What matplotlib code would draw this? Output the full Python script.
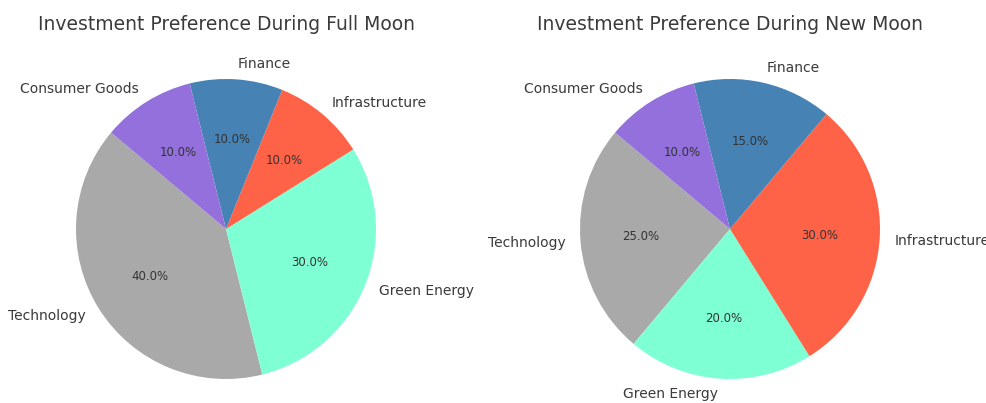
import matplotlib
matplotlib.use("Agg")
import matplotlib.pyplot as plt

# Investment shares by sector under each lunar phase
sectors = ["Technology", "Green Energy", "Infrastructure", "Finance", "Consumer Goods"]
full_moon = [40, 30, 10, 10, 10]
new_moon = [25, 20, 30, 15, 10]
colors = ["#a9a9a9", "#7fffd4", "#ff6347", "#4682b4", "#9370db"]
titles = ["Investment Preference During Full Moon", "Investment Preference During New Moon"]

W, H = 987, 403
fig = plt.figure(figsize=(W / 100, H / 100), dpi=100)

text_color = "#3a3a3a"
side = 375  # axes size in pixels (pie radius = side / 2.5)
centers = [(226, 229), (730, 229)]

for (cx, cy), values, title in zip(centers, [full_moon, new_moon], titles):
    ax = fig.add_axes([(cx - side / 2) / W, (H - cy - side / 2) / H, side / W, side / H])
    ax.pie(values, labels=sectors, colors=colors, autopct="%1.1f%%", startangle=140,
           textprops={"fontsize": 10, "color": text_color})
    for t in ax.texts:
        if t.get_text().endswith("%"):
            t.set_fontsize(8.5)
            t.set_color("#333333")
    ax.set_title(title, fontsize=13.5, color=text_color, pad=8)
    ax.axis("equal")
    ax.set_xlim(-1.25, 1.25)
    ax.set_ylim(-1.25, 1.25)

fig.savefig("out.png", dpi=100)
